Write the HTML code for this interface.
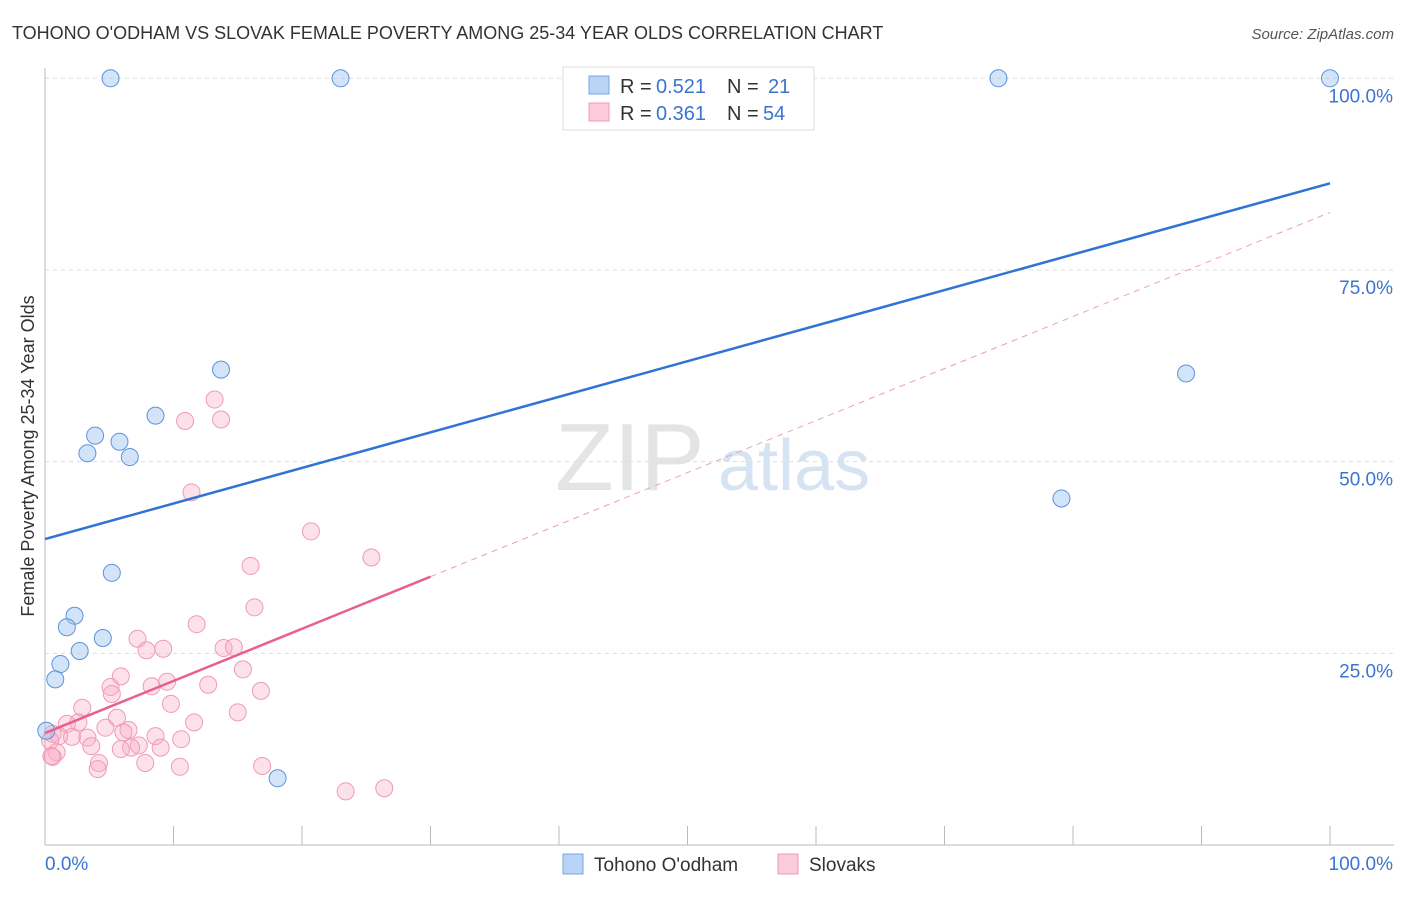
<!DOCTYPE html>
<html><head><meta charset="utf-8"><style>
body{margin:0;background:#fff;font-family:"Liberation Sans",sans-serif}
svg text{font-family:"Liberation Sans",sans-serif}
</style></head><body>
<svg id="c" width="1406" height="892">
<text x="12" y="39" font-size="18" fill="#333">TOHONO O'ODHAM VS SLOVAK FEMALE POVERTY AMONG 25-34 YEAR OLDS CORRELATION CHART</text>
<text x="1394" y="39" font-size="15" fill="#555" font-style="italic" text-anchor="end">Source: ZipAtlas.com</text>
<text x="0" y="0" transform="translate(34,456) rotate(-90)" font-size="18" fill="#333" text-anchor="middle">Female Poverty Among 25-34 Year Olds</text>
<g><text x="555" y="490" font-size="96" fill="#e4e4e4" font-family="Liberation Serif">ZIP</text><text x="718" y="490" font-size="72" fill="#d6e3f3">atlas</text></g>
<g id="grid"></g><g id="pts"></g><g id="lines"></g>
<g>
<rect x="563" y="67" width="251" height="63" fill="#fff" stroke="#ddd"/>
<rect x="589" y="76" width="20" height="18" fill="#b8d3f5" stroke="#7aa7e0"/>
<rect x="589" y="103" width="20" height="18" fill="#fccbdb" stroke="#f09ab7"/>
<text x="620" y="93" font-size="20" fill="#333">R =</text>
<text x="656" y="93" font-size="20" fill="#3a75d0">0.521</text>
<text x="727" y="93" font-size="20" fill="#333">N =</text>
<text x="768" y="93" font-size="20" fill="#3a75d0">21</text>
<text x="620" y="120" font-size="20" fill="#333">R =</text>
<text x="656" y="120" font-size="20" fill="#3a75d0">0.361</text>
<text x="727" y="120" font-size="20" fill="#333">N =</text>
<text x="763" y="120" font-size="20" fill="#3a75d0">54</text>
</g>
<g>
<rect x="563" y="854" width="20" height="20" fill="#b8d3f5" stroke="#7aa7e0"/>
<text x="594" y="871" font-size="19" fill="#333">Tohono O'odham</text>
<rect x="778" y="854" width="20" height="20" fill="#fccbdb" stroke="#f09ab7"/>
<text x="809" y="871" font-size="19" fill="#333">Slovaks</text>
</g>
</svg>
<script>
const yTicks=[25,50,75,100];
const yTickLabels=["25.0%","50.0%","75.0%","100.0%"];
const blueX=[5.1,23.0,74.2,100,13.7,88.8,8.6,3.9,5.8,3.3,6.6,79.1,5.2,2.3,1.7,4.5,2.7,1.2,0.8,0.1,18.1];
const blueY=[100,100,100,100,62.0,61.5,56.0,53.4,52.6,51.1,50.6,45.2,35.5,29.9,28.4,27.0,25.3,23.6,21.6,14.9,8.7];
const pinkX=[13.2,10.9,13.7,11.4,20.7,25.4,16.0,16.3,11.8,7.2,7.9,9.2,13.9,14.7,5.9,15.4,5.1,8.3,9.5,5.2,12.7,16.8,9.8,15.0,2.9,2.6,5.6,1.7,11.6,4.7,6.5,6.1,8.6,7.3,2.1,3.3,0.6,1.1,6.7,0.4,10.6,9.0,3.6,5.9,0.9,0.6,4.2,7.8,0.5,10.5,4.1,16.9,23.4,26.4];
const pinkY=[58.1,55.3,55.5,46.0,40.9,37.5,36.4,31.0,28.8,26.9,25.4,25.6,25.7,25.8,22.0,22.9,20.6,20.7,21.3,19.7,20.9,20.1,18.4,17.3,17.9,16.0,16.6,15.8,16.0,15.3,15.0,14.7,14.2,13.0,14.1,14.0,14.5,14.2,12.7,13.6,13.8,12.7,12.9,12.5,12.1,11.5,10.7,10.7,11.6,10.2,9.9,10.3,7.0,7.4];
const blueLine=[0,39.9,100,86.3];
const pinkLine=[0,14.6,30,35.0];
const pinkDash=[30,35.0,100,82.5];
const X=v=>45+v*12.85, Y=v=>845-v*7.667;
const NS="http://www.w3.org/2000/svg";
function mk(t,a,p){const e=document.createElementNS(NS,t);for(const k in a)e.setAttribute(k,a[k]);p.appendChild(e);return e;}
const g=document.getElementById('grid');
yTicks.forEach((t,i)=>{
 const l=mk('line',{x1:45,x2:1394,y1:Y(t),y2:Y(t),stroke:'#ddd','stroke-dasharray':'4,4'},g);
 
 
 const tx=mk('text',{x:1393,y:Y(t)+24,'font-size':19,fill:'#3a75d0','text-anchor':'end'},g);
 tx.textContent=yTickLabels[i];
 
 
});
const ax=mk('line',{x1:45,x2:45,y1:68,y2:845,stroke:'#bbb'},g);


const bx=mk('line',{x1:45,x2:1394,y1:845,y2:845,stroke:'#bbb'},g);


for(let i=1;i<=10;i++){const t=mk('line',{x1:X(i*10),x2:X(i*10),y1:826,y2:845,stroke:'#bbb'},g);
 
 }
[[45,'start','0.0%'],[1393,'end','100.0%']].forEach(d=>{const t=mk('text',{x:d[0],y:870,'font-size':19,fill:'#3a75d0','text-anchor':d[1]},g);t.textContent=d[2];
 
 });
const p=document.getElementById('pts');
pinkX.forEach((x,i)=>{const c=mk('circle',{cx:X(x),cy:Y(pinkY[i]),r:8.5,fill:'rgba(248,170,196,0.35)',stroke:'#f09ab7','stroke-width':1},p);
 
 });
blueX.forEach((x,i)=>{const c=mk('circle',{cx:X(x),cy:Y(blueY[i]),r:8.5,fill:'rgba(160,196,240,0.45)',stroke:'#5b93da','stroke-width':1},p);
 
 });
const L=document.getElementById('lines');
const b=mk('line',{x1:X(blueLine[0]),y1:Y(blueLine[1]),x2:X(blueLine[2]),y2:Y(blueLine[3]),stroke:'#2f73d4','stroke-width':2.5},L);


const pl=mk('line',{x1:X(pinkLine[0]),y1:Y(pinkLine[1]),x2:X(pinkLine[2]),y2:Y(pinkLine[3]),stroke:'#e8608e','stroke-width':2.5},L);


const pd=mk('line',{x1:X(pinkDash[0]),y1:Y(pinkDash[1]),x2:X(pinkDash[2]),y2:Y(pinkDash[3]),stroke:'#eaa0b8','stroke-width':1,'stroke-dasharray':'6,5'},L);


</script>
</body></html>
